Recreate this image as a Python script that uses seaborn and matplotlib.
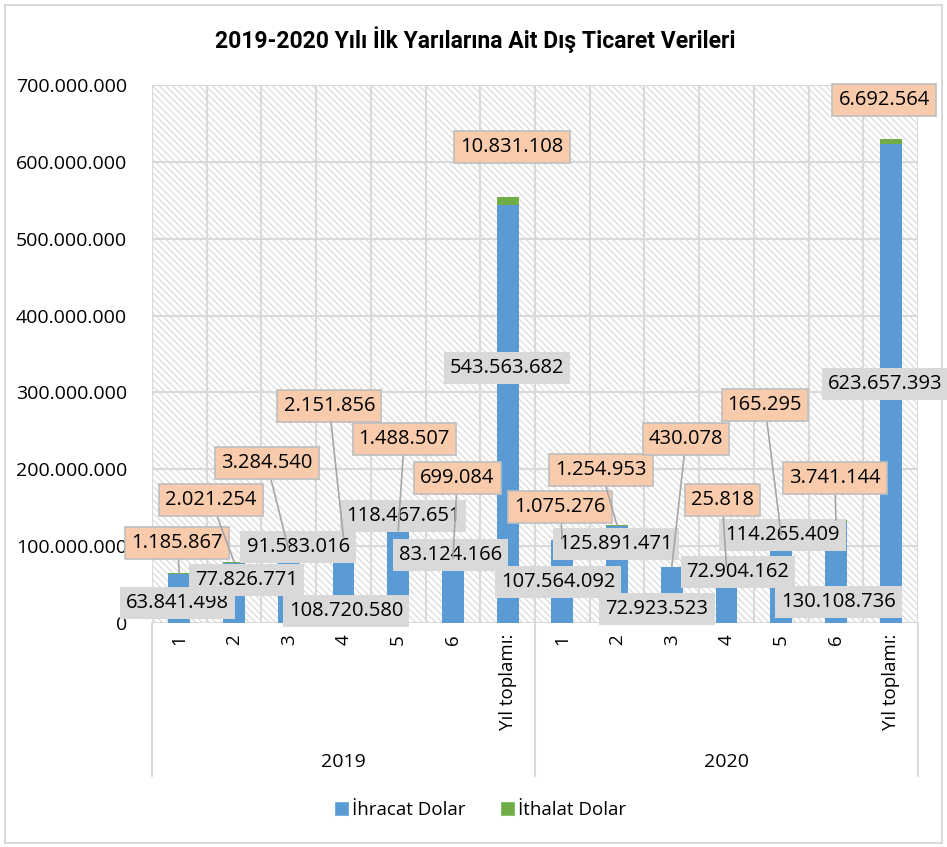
import numpy as np
import pandas as pd
import matplotlib
matplotlib.use("Agg")
import matplotlib.pyplot as plt
import matplotlib.transforms as mtransforms
from matplotlib.patches import Rectangle, Patch
import seaborn as sns

# data
years = ["2019", "2020"]
months = ["1", "2", "3", "4", "5", "6", "Yıl toplamı:"]
ihracat_2019 = [63841498, 77826771, 91583016, 108720580, 118467651, 83124166, 543563682]
ithalat_2019 = [1185867, 2021254, 3284540, 2151856, 1488507, 699084, 10831108]
ihracat_2020 = [107564092, 125891471, 72923523, 72904162, 114265409, 130108736, 623657393]
ithalat_2020 = [1075276, 1254953, 430078, 25818, 165295, 3741144, 6692564]

# label positions (category index, value) where the labels were dragged to
blue_lbl_pos = [(-0.03, 26e6), (1.22, 56e6), (2.17, 99e6), (3.05, 15.6e6), (4.09, 139e6),
                (4.95, 88.5e6), (5.99, 332e6), (6.92, 53e6), (7.98, 103e6), (8.73, 18e6),
                (10.21, 66e6), (11.02, 114.5e6), (12.04, 27e6), (12.90, 311e6)]
orange_lbl_pos = [(-0.04, 104e6), (0.58, 160e6), (1.60, 208e6), (2.74, 282e6), (4.11, 239e6),
                  (5.08, 189e6), (6.08, 619e6), (6.96, 151e6), (7.71, 199e6), (9.26, 239e6),
                  (9.92, 160e6), (10.70, 284e6), (11.98, 189e6), (12.88, 680e6)]

BLUE = "#5B9BD5"
GREEN = "#70AD47"
GRID = "#D9D9D9"

df = pd.DataFrame({
    "key": [f"{y}-{m}" for y in years for m in months],
    "month": months * 2,
    "ihracat": ihracat_2019 + ihracat_2020,
    "ithalat": ithalat_2019 + ithalat_2020,
})
df["toplam"] = df["ihracat"] + df["ithalat"]

sns.set_style("white")
plt.rcParams["font.family"] = ["Open Sans", "DejaVu Sans"]
plt.rcParams["text.color"] = "black"
plt.rcParams["xtick.color"] = "black"
plt.rcParams["ytick.color"] = "black"
plt.rcParams["hatch.linewidth"] = 1.0

fig = plt.figure(figsize=(9.47, 8.47), dpi=100)
ax = fig.add_axes([152 / 947, 1 - 623 / 847, 766 / 947, 538 / 847])

n = len(df)
# hatched plot-area background
bg = Rectangle((-0.5, 0), n, 7e8, facecolor="white", edgecolor="#DEDEDE",
               linewidth=0, hatch="\\" * 5, zorder=0)
ax.add_patch(bg)

# stacked bars: total in green, exports on top in blue
sns.barplot(data=df, x="key", y="toplam", order=df["key"], color=GREEN,
            saturation=1, width=0.4, linewidth=0, ax=ax, zorder=2)
sns.barplot(data=df, x="key", y="ihracat", order=df["key"], color=BLUE,
            saturation=1, width=0.4, linewidth=0, ax=ax, zorder=3)

ax.set_xlim(-0.5, n - 0.5)
ax.set_ylim(0, 7e8)
ax.set_yticks(np.arange(0, 7e8 + 1, 1e8))
ax.set_yticklabels([f"{int(v):,}".replace(",", ".") for v in ax.get_yticks()], fontsize=14)
ax.set_xticks(range(n))
ax.set_xticklabels(df["month"], rotation=90, fontsize=13.5)
ax.tick_params(axis="both", length=0)
ax.tick_params(axis="x", pad=8)
ax.tick_params(axis="y", pad=18)
ax.set_xlabel("")
ax.set_ylabel("")
for s in ax.spines.values():
    s.set_visible(False)

# grid
for v in np.arange(0, 7e8 + 1, 1e8):
    ax.axhline(v, color=GRID, lw=1.5, zorder=1)
for i in range(n + 1):
    ax.axvline(i - 0.5, color=GRID, lw=1.5, zorder=1)

# year groups under the axis
trans = mtransforms.blended_transform_factory(ax.transData, ax.transAxes)
for x in [-0.5, 6.5, 13.5]:
    ax.plot([x, x], [0, -0.285], color=GRID, lw=1.5, transform=trans, clip_on=False)
for gi, y in enumerate(years):
    ax.text(gi * 7 + 3, -0.258, y, transform=trans, ha="center", va="center", fontsize=14)

# data labels
for i, row in df.iterrows():
    bx, by = blue_lbl_pos[i]
    ax.annotate(f"{row['ihracat']:,}".replace(",", "."), xy=(i, row["ihracat"] / 2),
                xytext=(bx, by), ha="center", va="center", fontsize=14.5, zorder=5,
                bbox=dict(boxstyle="square,pad=0.3", fc="#D9D9D9", ec="none"))
    ox, oy = orange_lbl_pos[i]
    arrow = None
    if row["month"] != "Yıl toplamı:":
        arrow = dict(arrowstyle="-", color="#A6A6A6", lw=1.2, shrinkA=0, shrinkB=0)
    ax.annotate(f"{row['ithalat']:,}".replace(",", "."), xy=(i, row["toplam"]),
                xytext=(ox, oy), ha="center", va="center", fontsize=14.5, zorder=6,
                arrowprops=arrow,
                bbox=dict(boxstyle="square,pad=0.3", fc="#F8CBAD", ec="#BFBFBF", lw=1.2))

fig.text(475 / 947, 1 - 40 / 847, "2019-2020 Yılı İlk Yarılarına Ait Dış Ticaret Verileri",
         ha="center", va="center", fontsize=16.5, fontweight="bold", family=["Roboto", "DejaVu Sans"])

handles = [Patch(facecolor=BLUE, label="İhracat Dolar"), Patch(facecolor=GREEN, label="İthalat Dolar")]
fig.legend(handles=handles, loc="center", bbox_to_anchor=(480 / 947, 1 - 810 / 847), ncol=2,
           frameon=False, fontsize=13.5, handlelength=0.8, handleheight=0.8,
           handletextpad=0.2, columnspacing=1.8)

fig.patches.append(Rectangle((5 / 947, 4 / 847), 937 / 947, 838 / 847, transform=fig.transFigure,
                             fill=False, edgecolor=GRID, lw=1.5))

fig.savefig("out.png", dpi=100)
